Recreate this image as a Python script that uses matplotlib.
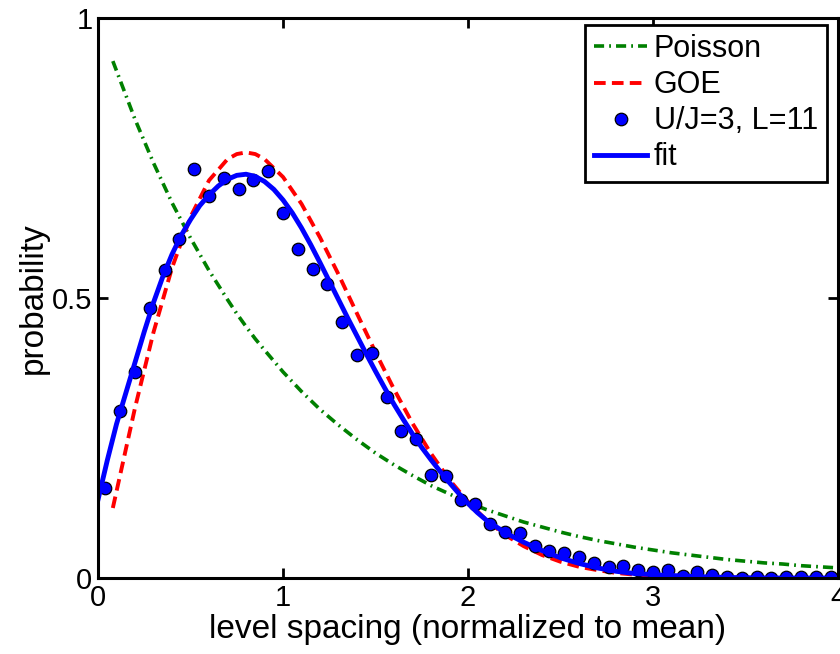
import numpy as np
import matplotlib
matplotlib.use("Agg")
import matplotlib.pyplot as plt

plt.rcParams["font.family"] = ["Liberation Sans", "DejaVu Sans"]

# histogram of level spacings (bin centres and heights)
s_bins = np.linspace(0.04, 3.96, 50)
p_data = [0.160, 0.298, 0.367, 0.483, 0.550, 0.605, 0.730, 0.683, 0.714, 0.695,
          0.711, 0.727, 0.651, 0.587, 0.552, 0.525, 0.458, 0.399, 0.401, 0.324,
          0.262, 0.248, 0.184, 0.182, 0.139, 0.132, 0.096, 0.083, 0.080, 0.058,
          0.049, 0.044, 0.038, 0.026, 0.020, 0.021, 0.014, 0.010, 0.014, 0.004,
          0.011, 0.005, 0.001, 0.000, 0.001, 0.000, 0.002, 0.002, 0.002, 0.002]

s_theory = [0.08, 0.2, 0.3, 0.4, 0.5, 0.6, 0.7, 0.75, 0.8, 0.85, 0.9, 1.0,
            1.1, 1.2, 1.3, 1.4, 1.5, 1.6, 1.7, 1.8, 1.9, 2.0,
            2.1, 2.2, 2.3, 2.4, 2.5, 2.6, 2.7, 2.8, 2.9, 3.0,
            3.1, 3.2, 3.3, 3.4, 3.5, 3.6, 3.7, 3.8, 3.9, 4.0]
p_poisson = [0.923, 0.819, 0.741, 0.670, 0.607, 0.549, 0.497, 0.472, 0.449, 0.427,
             0.407, 0.368,
             0.333, 0.301, 0.273, 0.247, 0.223, 0.202, 0.183, 0.165, 0.150, 0.135,
             0.122, 0.111, 0.100, 0.091, 0.082, 0.074, 0.067, 0.061, 0.055, 0.050,
             0.045, 0.041, 0.037, 0.033, 0.030, 0.027, 0.025, 0.022, 0.020, 0.018]
p_goe = [0.125, 0.304, 0.439, 0.554, 0.645, 0.710, 0.748, 0.757, 0.760, 0.757,
         0.748, 0.716,
         0.668, 0.608, 0.542, 0.472, 0.403, 0.337, 0.276, 0.222, 0.175, 0.136,
         0.103, 0.077, 0.057, 0.041, 0.029, 0.020, 0.014, 0.009, 0.006, 0.004,
         0.0025, 0.0016, 0.0010, 0.0006, 0.0003, 0.0002, 0.0001, 0.0001, 0.0, 0.0]

# fitted curve
s_fit = [0.0, 0.05, 0.1, 0.15, 0.2, 0.25, 0.3, 0.35, 0.4, 0.45,
         0.5, 0.55, 0.6, 0.65, 0.7, 0.75, 0.8, 0.85, 0.9, 0.95,
         1.0, 1.05, 1.1, 1.15, 1.2, 1.25, 1.3, 1.35, 1.4, 1.45,
         1.5, 1.55, 1.6, 1.65, 1.7, 1.75, 1.8, 1.85, 1.9, 1.95,
         2.0, 2.05, 2.1, 2.2, 2.3, 2.4, 2.5, 2.6, 2.7, 2.8,
         2.9, 3.0, 3.2, 3.4, 3.6, 4.0]
p_fit = [0.140, 0.210, 0.275, 0.330, 0.385, 0.440, 0.492, 0.538, 0.578, 0.612,
         0.640, 0.665, 0.684, 0.700, 0.712, 0.719, 0.721, 0.717, 0.708, 0.694,
         0.675, 0.652, 0.625, 0.595, 0.563, 0.530, 0.497, 0.464, 0.432, 0.400,
         0.369, 0.339, 0.310, 0.283, 0.257, 0.233, 0.211, 0.190, 0.170, 0.151,
         0.133, 0.117, 0.103, 0.081, 0.064, 0.049, 0.036, 0.026, 0.018, 0.012,
         0.008, 0.006, 0.003, 0.001, 0.0, 0.0]

fig = plt.figure(figsize=(8.4, 6.54), dpi=100)
ax = fig.add_axes([0.1167, 0.1162, 0.881, 0.8563])

ax.plot(s_theory, p_poisson, color="#008000", lw=2.6,
        dashes=(2.8, 1.4, 0.5, 1.4), label="Poisson")
ax.plot(s_theory, p_goe, color="red", lw=2.8, dashes=(3, 1.6), label="GOE")
ax.plot(s_bins, p_data, "o", color="blue", ms=9, mec="black", mew=0.9,
        label="U/J=3, L=11")
ax.plot(s_fit, p_fit, color="blue", lw=3.5, label="fit")

ax.set_xlim(0, 4)
ax.set_ylim(0, 1)
ax.set_xticks([0, 1, 2, 3, 4])
ax.set_yticks([0, 0.5, 1])
ax.set_yticklabels(["0", "0.5", "1"])
ax.tick_params(direction="in", top=True, right=True, length=7, width=2,
               labelsize=21, pad=4)
for sp in ax.spines.values():
    sp.set_linewidth(2.2)

ax.set_xlabel("level spacing (normalized to mean)", fontsize=24, labelpad=2)
ax.set_ylabel("probability", fontsize=24, labelpad=2)

leg = ax.legend(loc="upper right", bbox_to_anchor=(0.985, 0.9875),
                borderaxespad=0, fontsize=22, numpoints=1, handlelength=1.75,
                handletextpad=0.2, labelspacing=0.2, borderpad=0.3,
                fancybox=False, framealpha=1)
leg.get_frame().set_edgecolor("black")
leg.get_frame().set_linewidth(2)

fig.savefig("out.png", dpi=100)
